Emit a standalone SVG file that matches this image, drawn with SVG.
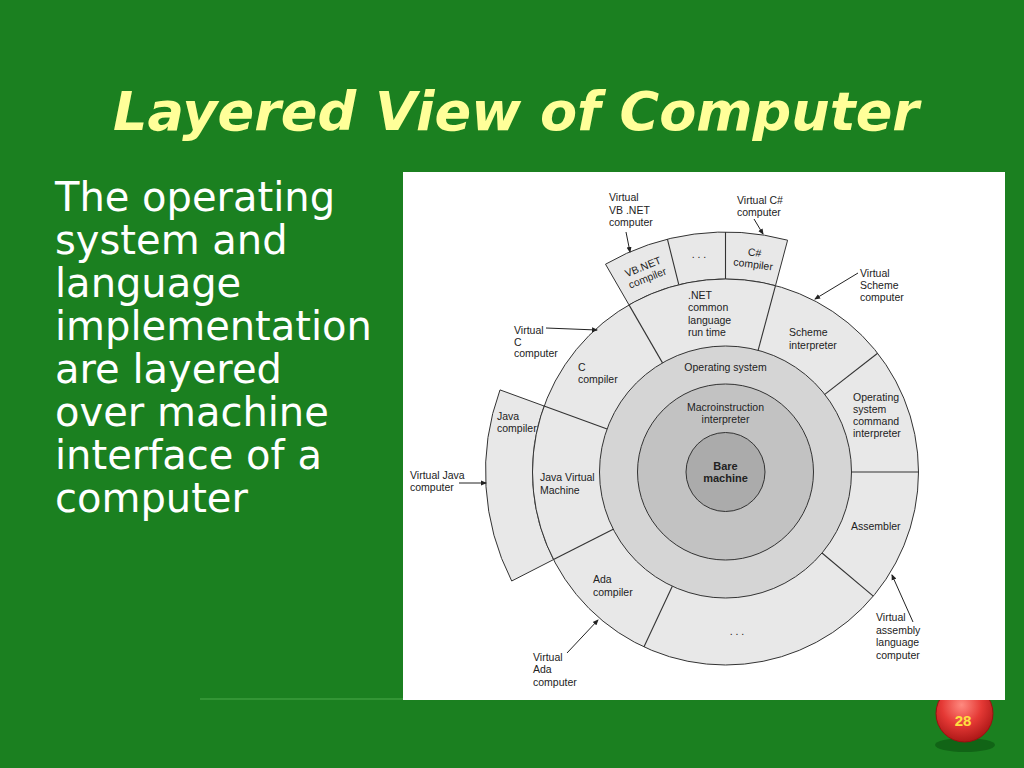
<svg xmlns="http://www.w3.org/2000/svg" width="1024" height="768" viewBox="0 0 1024 768">
<defs>
<marker id="ah" markerWidth="6" markerHeight="6" refX="5" refY="3" orient="auto" markerUnits="userSpaceOnUse">
<path d="M0,0.5 L6,3 L0,5.5 Z" fill="#222"/>
</marker>
<radialGradient id="ball" cx="0.45" cy="0.35" r="0.7">
<stop offset="0" stop-color="#ff8a80"/>
<stop offset="0.5" stop-color="#e53935"/>
<stop offset="1" stop-color="#a31212"/>
</radialGradient>
<style>
.title{font-family:"DejaVu Sans",sans-serif;font-weight:bold;font-style:italic;font-size:54px;fill:#ffff99}
.body{font-family:"DejaVu Sans",sans-serif;font-size:40px;fill:#ffffff}
.lbl{font-family:"Liberation Sans",Arial,sans-serif;font-size:10.5px;fill:#222}
.bold{font-weight:bold;font-size:11px}
.reg{stroke:#333;stroke-width:1}
.div{stroke:#333;stroke-width:1.1;fill:none}
.arr{stroke:#222;stroke-width:1;fill:none;marker-end:url(#ah)}
</style>
</defs>
<rect x="0" y="0" width="1024" height="768" fill="#1b8020"/>
<line x1="200" y1="699" x2="403" y2="699" stroke="#3d9c3d" stroke-width="1.5"/>
<g id="page-number">
<ellipse cx="965" cy="745" rx="30" ry="7" fill="#0f5c14" opacity="0.8"/>
<circle cx="964.5" cy="713.5" r="28.5" fill="url(#ball)" stroke="#9a1010" stroke-width="1"/>
<text x="963" y="726" text-anchor="middle" style="font-family:'Liberation Sans',Arial,sans-serif;font-weight:bold;font-size:15px;fill:#ffe040">28</text>
</g>
<text class="title" x="113" y="130" textLength="806" lengthAdjust="spacingAndGlyphs">Layered View of Computer</text>
<g id="body-text" class="body">
<text x="55" y="211">The operating</text>
<text x="55" y="254">system and</text>
<text x="55" y="297">language</text>
<text x="55" y="340">implementation</text>
<text x="55" y="383">are layered</text>
<text x="55" y="426">over machine</text>
<text x="55" y="469">interface of a</text>
<text x="55" y="512">computer</text>
</g>
<rect x="403" y="172" width="602" height="528" fill="#ffffff"/>
<g id="diagram">
<g id="outer-top">
<path class="reg" fill="#e8e8e8" d="M605.5,264.2 A240,240 0 0 1 787.6,240.2 L775.5,285.6 A193,193 0 0 0 629,304.9 Z"/>
<line class="div" x1="667.4" y1="239.1" x2="678.8" y2="284.7"/>
<line class="div" x1="725.5" y1="232" x2="725.5" y2="279"/>
</g>
<g id="java-compiler">
<path class="reg" fill="#e8e8e8" d="M511.7,581 A240,240 0 0 1 500,389.9 L544.1,406 A193,193 0 0 0 553.5,559.6 Z"/>
</g>
<g id="ring-language">
<circle class="reg" cx="725.5" cy="472" r="193" fill="#e8e8e8"/>
</g>
<g id="operating-system">
<circle class="reg" cx="725.5" cy="472" r="126" fill="#d5d5d5"/>
</g>
<g id="macroinstruction">
<circle class="reg" cx="725.5" cy="472" r="88" fill="#c2c2c2"/>
</g>
<g id="bare-machine">
<circle class="reg" cx="725.5" cy="472" r="39.5" fill="#ababab"/>
</g>
<g id="ring-dividers">
<line class="div" x1="662.5" y1="362.9" x2="629" y2="304.9"/>
<line class="div" x1="758.1" y1="350.3" x2="775.5" y2="285.6"/>
<line class="div" x1="824.8" y1="394.4" x2="877.6" y2="353.2"/>
<line class="div" x1="851.5" y1="472" x2="918.5" y2="472"/>
<line class="div" x1="822" y1="553" x2="873.3" y2="596.1"/>
<line class="div" x1="672.3" y1="586.2" x2="643.9" y2="646.9"/>
<line class="div" x1="613.2" y1="529.2" x2="553.5" y2="559.6"/>
<line class="div" x1="607.1" y1="428.9" x2="544.1" y2="406"/>
</g>
<g id="labels" class="lbl">
<g transform="translate(645,272) rotate(-22)" text-anchor="middle"><text x="0" y="-2">VB.NET</text><text x="0" y="10">compiler</text></g>
<text x="699" y="258" text-anchor="middle">. . .</text>
<g transform="translate(754,258) rotate(7.5)" text-anchor="middle"><text x="0" y="-2">C#</text><text x="0" y="10">compiler</text></g>
<text x="688" y="299">.NET</text>
<text x="688" y="311">common</text>
<text x="688" y="324">language</text>
<text x="688" y="336">run time</text>
<text x="789" y="336">Scheme</text>
<text x="789" y="349">interpreter</text>
<text x="853" y="401">Operating</text>
<text x="853" y="413">system</text>
<text x="853" y="425">command</text>
<text x="853" y="437">interpreter</text>
<text x="851" y="530">Assembler</text>
<text x="737" y="635" text-anchor="middle">. . .</text>
<text x="593" y="583">Ada</text>
<text x="593" y="596">compiler</text>
<text x="540" y="481">Java Virtual</text>
<text x="540" y="494">Machine</text>
<text x="497" y="420">Java</text>
<text x="497" y="432">compiler</text>
<text x="578" y="371">C</text>
<text x="578" y="383">compiler</text>
<text x="725.5" y="371" text-anchor="middle">Operating system</text>
<text x="725.5" y="411" text-anchor="middle">Macroinstruction</text>
<text x="725.5" y="423" text-anchor="middle">interpreter</text>
<text class="bold" x="725.5" y="470" text-anchor="middle">Bare</text>
<text class="bold" x="725.5" y="482" text-anchor="middle">machine</text>
</g>
<g id="external-labels" class="lbl">
<text x="609" y="201">Virtual</text>
<text x="609" y="214">VB .NET</text>
<text x="609" y="226">computer</text>
<text x="737" y="204">Virtual C#</text>
<text x="737" y="216">computer</text>
<text x="860" y="277">Virtual</text>
<text x="860" y="289">Scheme</text>
<text x="860" y="301">computer</text>
<text x="876" y="621">Virtual</text>
<text x="876" y="634">assembly</text>
<text x="876" y="646">language</text>
<text x="876" y="659">computer</text>
<text x="533" y="661">Virtual</text>
<text x="533" y="673">Ada</text>
<text x="533" y="686">computer</text>
<text x="410" y="479">Virtual Java</text>
<text x="410" y="491">computer</text>
<text x="514" y="334">Virtual</text>
<text x="514" y="346">C</text>
<text x="514" y="357">computer</text>
</g>
</g>
<g id="connectors">
<line class="arr" x1="626" y1="232" x2="630" y2="252"/>
<line class="arr" x1="754" y1="219" x2="763" y2="234"/>
<line class="arr" x1="858" y1="273" x2="815" y2="299"/>
<line class="arr" x1="913" y1="622" x2="892" y2="575"/>
<line class="arr" x1="567" y1="653" x2="598" y2="620"/>
<line class="arr" x1="459" y1="483" x2="486" y2="483"/>
<line class="arr" x1="546" y1="328" x2="597" y2="330"/>
</g>
</svg>
